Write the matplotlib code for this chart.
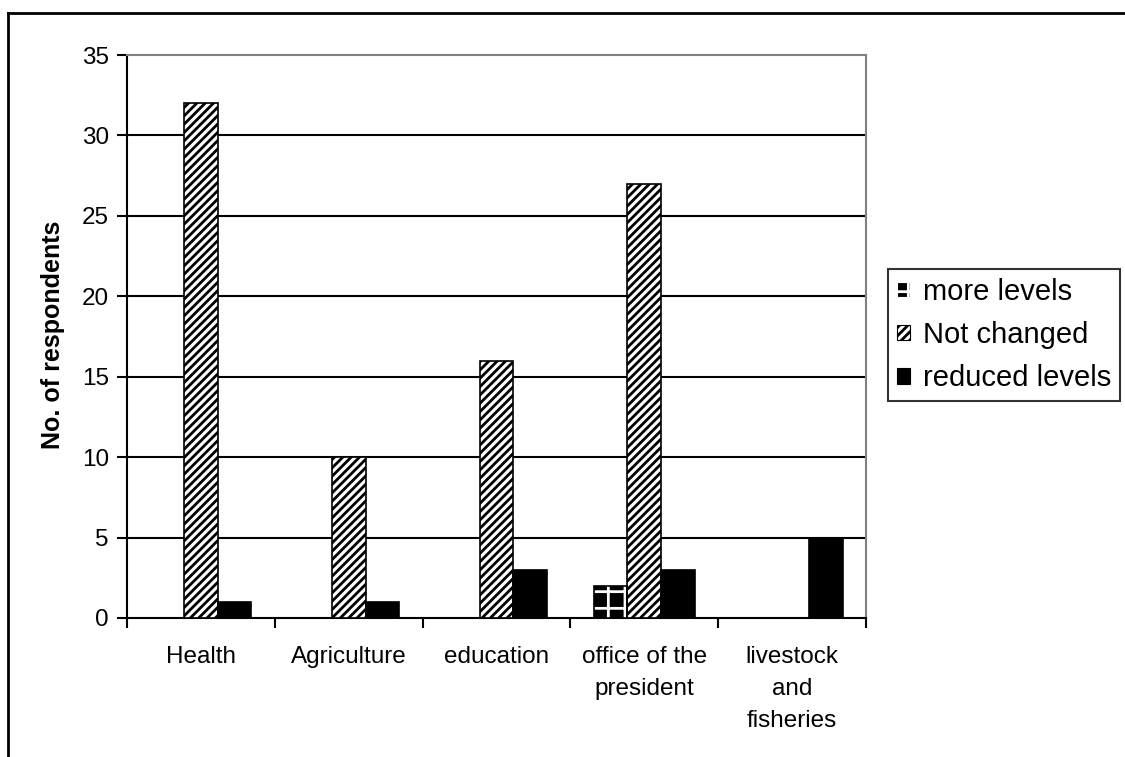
import matplotlib
matplotlib.use("Agg")
import matplotlib.pyplot as plt
from matplotlib.lines import Line2D
from matplotlib.patches import Patch
import numpy as np

categories = ["Health", "Agriculture", "education", "office of the\npresident", "livestock\nand\nfisheries"]
more_levels = [0, 0, 0, 2, 0]
not_changed = [32, 10, 16, 27, 0]
reduced_levels = [1, 1, 3, 3, 5]
series_names = ["more levels", "Not changed", "reduced levels"]
y_ticks = [0, 5, 10, 15, 20, 25, 30, 35]

plt.rcParams['font.family'] = ['Liberation Sans', 'DejaVu Sans']
plt.rcParams['hatch.linewidth'] = 2.0

fig = plt.figure(figsize=(11.25, 7.57), dpi=100)
ax = fig.add_axes([127/1125, 1-618/757, (866-127)/1125, (618-55)/757])

x = np.arange(len(categories))
w = 0.228

# more levels: black with white brick-like hatch
ax.bar(x - w, more_levels, w, color='black', edgecolor='white', hatch='+', linewidth=0, zorder=3)
ax.bar(x - w, more_levels, w, fill=False, edgecolor='black', linewidth=1.2, zorder=4)
# Not changed: diagonal hatch
ax.bar(x, not_changed, w, color='white', edgecolor='black', hatch='////', linewidth=1.2, zorder=3)
# reduced levels: solid black
ax.bar(x + w, reduced_levels, w, color='black', edgecolor='black', linewidth=1.2, zorder=3)

ax.set_xlim(-0.5, len(categories) - 0.5)
ax.set_ylim(0, 35)
ax.set_yticks(y_ticks)
ax.set_yticklabels([str(t) for t in y_ticks], fontsize=17.5)
ax.set_xticks(x)
ax.set_xticklabels(categories, fontsize=17.5, linespacing=1.6)
ax.set_xticks(np.arange(len(categories) + 1) - 0.5, minor=True)
ax.tick_params(axis='x', which='major', length=0, pad=20)
ax.tick_params(axis='x', which='minor', length=7, width=1.5, direction='out')
ax.tick_params(axis='y', length=7, width=1.5, direction='out', pad=6)

for yv in y_ticks[1:-1]:
    ax.axhline(yv, color='black', linewidth=1.5, zorder=1)

ax.spines['left'].set_linewidth(1.5)
ax.spines['bottom'].set_linewidth(1.5)
ax.spines['top'].set_color('#808080')
ax.spines['right'].set_color('#808080')
ax.spines['top'].set_linewidth(1.5)
ax.spines['right'].set_linewidth(1.5)

fig.text(53/1125, 1-335/757, "No. of respondents", rotation=90, fontsize=18,
         fontweight='bold', ha='center', va='center')

handles = [
    Patch(facecolor='black', edgecolor='white', hatch='+', linewidth=0.8),
    Patch(facecolor='white', edgecolor='black', hatch='////', linewidth=0.8),
    Patch(facecolor='black', edgecolor='black', linewidth=0.8),
]
leg = fig.legend(handles, series_names, loc='center left',
                 bbox_to_anchor=(888/1125, 1-335/757), fontsize=21,
                 handlelength=0.45, handleheight=0.45, handletextpad=0.45,
                 labelspacing=0.52, borderpad=0.3, borderaxespad=0,
                 frameon=True, fancybox=False)
leg.get_frame().set_edgecolor('black')
leg.get_frame().set_linewidth(1.5)

# outer chart frame
fig.add_artist(Line2D([8/1125, 8/1125], [0, 1-13/757], color='black', linewidth=2, transform=fig.transFigure))
fig.add_artist(Line2D([8/1125, 1], [1-13/757, 1-13/757], color='black', linewidth=2, transform=fig.transFigure))

fig.savefig("out.png", dpi=100)
